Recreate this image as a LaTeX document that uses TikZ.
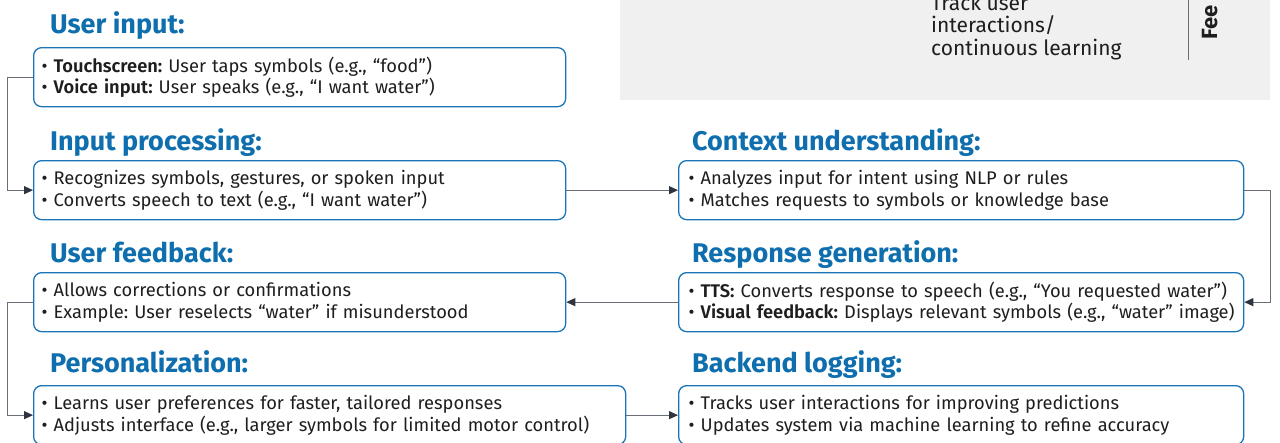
\documentclass[tikz,border=0pt]{standalone}
\usepackage{fontspec}
\setmainfont{Fira Sans}[BoldFont={Fira Sans SemiBold}]
\newfontfamily\ttlfont{Fira Sans}
\usetikzlibrary{arrows.meta}
\definecolor{ttlc}{HTML}{0F6FAE}
\definecolor{bdrc}{HTML}{1A74B6}
\definecolor{linkc}{HTML}{6B6E78}
\definecolor{headc}{HTML}{2E3440}
\definecolor{panelc}{HTML}{F0F0F0}
\definecolor{txtc}{HTML}{1E1E1E}
\begin{document}
\frenchspacing
\begin{tikzpicture}[x=1pt,y=-1pt,
  ttlstyle/.style={anchor=base west, text=ttlc, font=\ttlfont\fontsize{27}{30}\selectfont\bfseries, inner sep=0pt},
  boxstyle/.style={draw=bdrc, line width=1.3pt, rounded corners=8pt, anchor=north west,
     minimum height=59pt, align=left, inner xsep=8pt, inner ysep=0pt,
     font=\frenchspacing\fontsize{18.3}{21.5}\selectfont, text=txtc},
  rbox/.style={boxstyle, inner xsep=10pt, minimum width=565pt, text width=545pt},
  lbox/.style={boxstyle, minimum width=532pt, text width=516pt},
  link/.style={draw=linkc, line width=1pt, -{Triangle[length=9pt,width=8pt,color=headc]}},
  paneltext/.style={anchor=base west, text=txtc, font=\fontsize{21}{22}\selectfont, inner sep=0pt}
]
\useasboundingbox (0,0) rectangle (1280,442);
% grey panel
\fill[panelc] (620,0) rectangle (1270,100);
\node[paneltext] (t1) at (931,10) {Track user};
\node[paneltext] (t2) at (931,32.5) {interactions/};
\node[paneltext] (t3) at (931,55) {continuous learning};
\coordinate (vl1) at (1188,0);
\coordinate (vl2) at (1188,60);
\draw[linkc, line width=1pt] (vl1) -- (vl2);
\node[rotate=90, anchor=base west, inner sep=0pt, text=txtc, font=\ttlfont\fontsize{22}{24}\selectfont\bfseries] (fee) at (1217,40) {Fee};

% titles
\node[ttlstyle] (h1) at (50,33) {User input:};
\node[ttlstyle] (h2) at (50,150.5) {Input processing:};
\node[ttlstyle] (h3) at (692,150.5) {Context understanding:};
\node[ttlstyle] (h4) at (50,262) {User feedback:};
\node[ttlstyle] (h5) at (692,262) {Response generation:};
\node[ttlstyle] (h6) at (50,372) {Personalization:};
\node[ttlstyle] (h7) at (692,372) {Backend logging:};

% boxes
\node[lbox] (b1) at (33,47)
  {• \textbf{Touchscreen:} User taps symbols (e.g., “food”)\\• \textbf{Voice input:} User speaks (e.g., “I want water”)};
\node[lbox] (b2) at (33,160)
  {• Recognizes symbols, gestures, or spoken input\\• Converts speech to text (e.g., “I want water”)};
\node[rbox] (b3) at (678,160)
  {• Analyzes input for intent using NLP or rules\\• Matches requests to symbols or knowledge base};
\node[lbox] (b4) at (33,272)
  {• Allows corrections or confirmations\\• Example: User reselects “water” if misunderstood};
\node[rbox] (b5) at (678,272)
  {• \textbf{TTS:} Converts response to speech (e.g., “You requested water”)\\\mbox{• \textbf{Visual feedback:} Displays relevant symbols (e.g., “water” image)}};
\node[boxstyle, minimum width=592pt, text width=576pt] (b6) at (33,385)
  {• Learns user preferences for faster, tailored responses\\• Adjusts interface (e.g., larger symbols for limited motor control)};
\node[rbox] (b7) at (678,385)
  {• Tracks user interactions for improving predictions\\• Updates system via machine learning to refine accuracy};

% connectors
\draw[link] (b1.west) -- ++(-26,0) |- (b2.west);
\draw[link] (b2.east) -- (b3.west);
\draw[link] (b3.east) -- ++(26,0) |- (b5.east);
\draw[link] (b5.west) -- (b4.east);
\draw[link] (b4.west) -- ++(-26,0) |- (b6.west);
\draw[link] (b6.east) -- (b7.west);
\end{tikzpicture}
\end{document}
